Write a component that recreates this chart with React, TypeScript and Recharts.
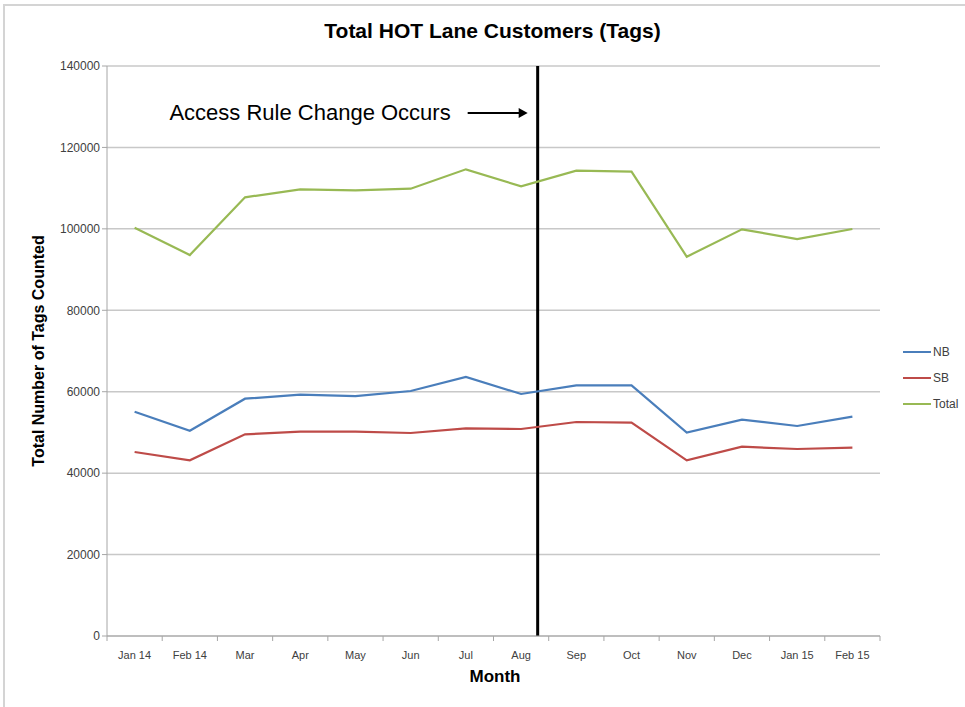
import React from 'react';
import {LineChart, Line, XAxis, YAxis, CartesianGrid, ReferenceLine} from 'recharts';

const months = ['Jan 14', 'Feb 14', 'Mar', 'Apr', 'May', 'Jun', 'Jul', 'Aug', 'Sep', 'Oct', 'Nov', 'Dec', 'Jan 15', 'Feb 15'];
const nb = [55090, 50420, 58290, 59270, 58940, 60170, 63610, 59440, 61570, 61570, 49940, 53130, 51580, 53870];
const sb = [45190, 43150, 49530, 50180, 50180, 49860, 51010, 50840, 52560, 52390, 43150, 46490, 45930, 46250];
const total = [100280, 93570, 107750, 109700, 109460, 109860, 114620, 110440, 114280, 114040, 93160, 99880, 97500, 99960];
const yTicks = [0, 20000, 40000, 60000, 80000, 100000, 120000, 140000];
// the change happens a little after the middle of August
const ruleMonth = 'Aug';
const ruleShift = 0.3;

const series = [
    {key: 'NB', color: '#4a7ebb'},
    {key: 'SB', color: '#be4b48'},
    {key: 'Total', color: '#98b954'},
];

const data = months.map((m, i) => ({month: m, NB: nb[i], SB: sb[i], Total: total[i]}));

const FONT = "'Liberation Sans', Arial, sans-serif";
const BAND = 773 / 14;
const SHIFT = ruleShift * BAND;

const MonthTick = (props: any) => {
    const {x, y, payload, index} = props;
    return (
        <g>
            <line x1={x - BAND / 2} y1={y - 8} x2={x - BAND / 2} y2={y - 3} stroke="#a6a6a6"/>
            {index === months.length - 1 && (
                <line x1={x + BAND / 2} y1={y - 8} x2={x + BAND / 2} y2={y - 3} stroke="#a6a6a6"/>
            )}
            <text x={x} y={y + 15} textAnchor="middle" fontSize={11} fill="#404040" fontFamily={FONT}>
                {payload.value}
            </text>
        </g>
    );
};

const RuleShape = (props: any) => {
    const {x1, y1, x2, y2} = props;
    return <line x1={x1 + SHIFT} y1={y1} x2={x2 + SHIFT} y2={y2} stroke="#000" strokeWidth={3}/>;
};

const RuleLabel = (props: any) => {
    const {viewBox} = props;
    const x = viewBox.x + SHIFT;
    const y = viewBox.y + 47;
    return (
        <g>
            <text x={x - 87} y={y + 7} textAnchor="end" fontSize={22} fill="#000" fontFamily={FONT}>
                Access Rule Change Occurs
            </text>
            <line x1={x - 70} y1={y} x2={x - 16} y2={y} stroke="#000" strokeWidth={2}/>
            <path d={`M ${x - 10} ${y} L ${x - 19} ${y - 5} L ${x - 19} ${y + 5} Z`} fill="#000"/>
        </g>
    );
};

export default function App() {
    return (
        <div style={{position: 'absolute', left: 0, top: 0, width: 965, height: 707, background: '#fff'}}>
            <div style={{position: 'absolute', left: 3, top: 4, right: 0, bottom: 0, borderLeft: '2px solid #d4d4d4', borderTop: '2px solid #d4d4d4'}}/>
            <div style={{position: 'absolute', left: 0, width: 985, top: 19, textAlign: 'center', fontFamily: FONT, fontWeight: 'bold', fontSize: 21, color: '#000'}}>
                Total HOT Lane Customers (Tags)
            </div>
            <div style={{position: 'absolute', left: 0, width: 990, top: 667, textAlign: 'center', fontFamily: FONT, fontWeight: 'bold', fontSize: 17, color: '#000'}}>
                Month
            </div>
            <div style={{position: 'absolute', left: 903, top: 339, fontFamily: FONT, fontSize: 12, color: '#404040'}}>
                {series.map((s) => (
                    <div key={s.key} style={{display: 'flex', alignItems: 'center', height: 26}}>
                        <span style={{display: 'inline-block', width: 28, height: 2, background: s.color, marginRight: 2}}/>
                        <span>{s.key}</span>
                    </div>
                ))}
            </div>
            <LineChart
                width={965}
                height={707}
                data={data}
                margin={{top: 66, right: 85, left: 47, bottom: 41}}
                style={{position: 'absolute', left: 0, top: 0}}
            >
                <CartesianGrid vertical={false} stroke="#c8c8c8" strokeWidth={1.5}/>
                <XAxis
                    dataKey="month"
                    scale="band"
                    height={30}
                    stroke="#a6a6a6"
                    tickLine={false}
                    interval={0}
                    tick={<MonthTick/>}
                />
                <YAxis
                    width={60}
                    domain={[0, 140000]}
                    ticks={yTicks}
                    stroke="#a6a6a6"
                    tickSize={5}
                    tick={{fontSize: 12, fill: '#404040', fontFamily: FONT}}
                    label={{
                        value: 'Total Number of Tags Counted',
                        angle: -90,
                        position: 'insideLeft',
                        dx: -14,
                        style: {fontSize: 16, fontWeight: 'bold', fill: '#000', fontFamily: FONT, textAnchor: 'middle'},
                    }}
                />
                <ReferenceLine x={ruleMonth} stroke="#000" strokeWidth={3} shape={<RuleShape/>} label={<RuleLabel/>}/>
                {series.map((s) => (
                    <Line key={s.key} dataKey={s.key} stroke={s.color} strokeWidth={2.2} dot={false} isAnimationActive={false}/>
                ))}
            </LineChart>
        </div>
    );
}
